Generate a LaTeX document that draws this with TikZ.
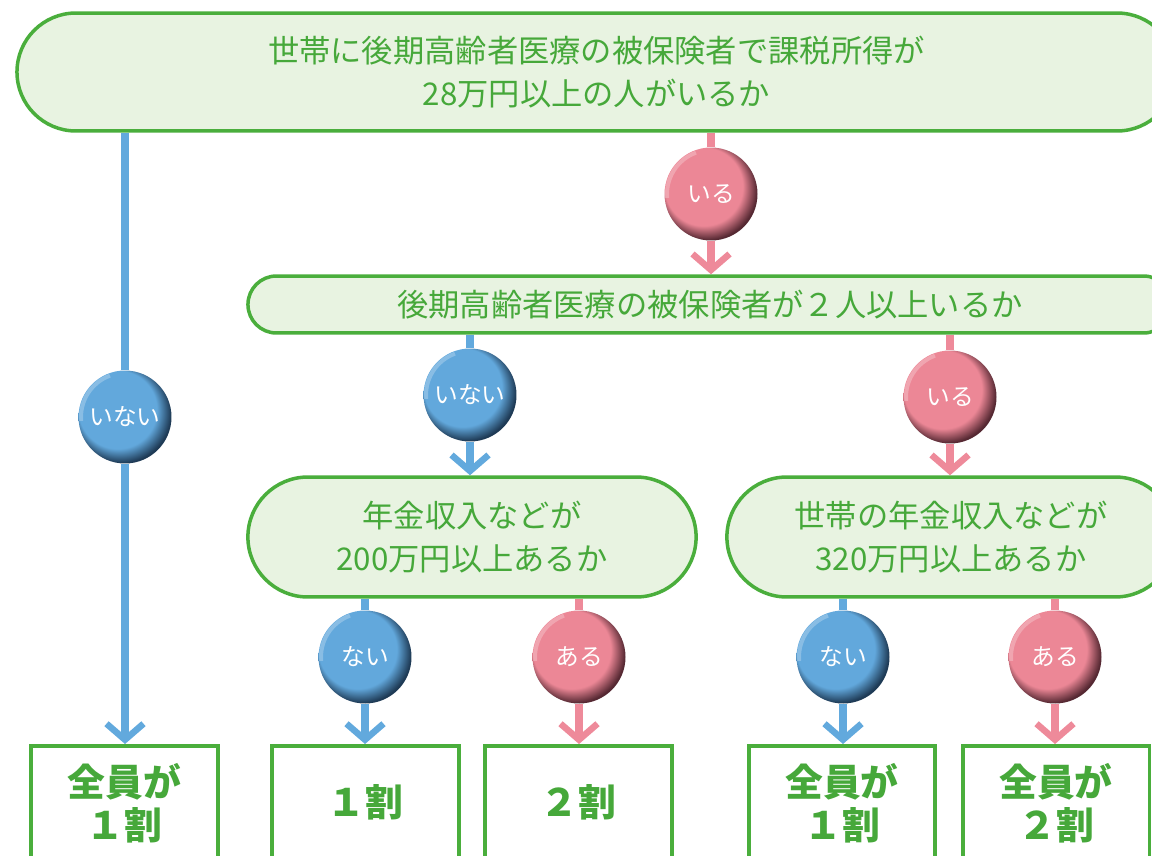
\documentclass[tikz,border=0pt]{standalone}
\usepackage{fontspec}
\setmainfont{Noto Sans CJK JP}
\usepackage{xcolor}
\usepackage{tikz}
\usetikzlibrary{arrows.meta,shapes.misc,backgrounds}

\definecolor{framegreen}{HTML}{4AAE3C}
\definecolor{textgreen}{HTML}{46A83A}
\definecolor{boxfill}{HTML}{E8F3E1}
\definecolor{lineblue}{HTML}{62A9DD}
\definecolor{linepink}{HTML}{EE8A9A}
\definecolor{ballblue}{HTML}{62A8DC}
\definecolor{ballbluedark}{HTML}{1E3A55}
\definecolor{ballpink}{HTML}{EC8796}
\definecolor{ballpinkdark}{HTML}{552832}

\pgfdeclareradialshading{blueball}{\pgfpoint{-10bp}{10bp}}{color(0bp)=(ballblue); color(21bp)=(ballblue); color(27bp)=(ballbluedark); color(35bp)=(ballbluedark)}
\pgfdeclareradialshading{pinkball}{\pgfpoint{-10bp}{10bp}}{color(0bp)=(ballpink); color(21bp)=(ballpink); color(27bp)=(ballpinkdark); color(35bp)=(ballpinkdark)}

\begin{document}
\begin{tikzpicture}[
    x=0.02cm, y=-0.02cm,
    question/.style={draw=framegreen, rounded rectangle, line width=0.07cm, fill=boxfill, text=textgreen, align=center, font=\fontsize{17.8}{24}\selectfont},
    result/.style={draw=framegreen, rectangle, line width=0.08cm, fill=white, minimum width=3.74cm, minimum height=2.8cm, anchor=north},
    restext/.style={text=textgreen, align=center, font=\fontsize{21.5}{24.5}\selectfont\bfseries},
    ball/.style={circle, inner sep=0pt, minimum size=1.86cm, text=white, font=\fontsize{13.5}{15}\selectfont,
        path picture={\draw[white, opacity=0.25, line width=0.08cm] (path picture bounding box.center) ++(110:0.88cm) arc[start angle=110, end angle=185, radius=0.88cm];}},
    noball/.style={ball, shading=blueball},
    yesball/.style={ball, shading=pinkball},
    noline/.style={lineblue, line width=0.16cm},
    yesline/.style={linepink, line width=0.16cm},
    noarrow/.style={noline, -{Straight Barb[length=0.32cm, width=0.74cm, line width=0.13cm, sharp]}},
    yesarrow/.style={yesline, -{Straight Barb[length=0.32cm, width=0.74cm, line width=0.13cm, sharp]}}
]
\useasboundingbox (0,0) rectangle (1152,855);
\clip (0,0) rectangle (1152,855);

% Questions
\node[question, minimum width=23.42cm, minimum height=2.36cm] (q1) at (596.5,72) {世帯に後期高齢者医療の被保険者で課税所得が\\28万円以上の人がいるか};
\node[question, minimum width=18.72cm, minimum height=1.14cm] (q2) at (710,304.5) {後期高齢者医療の被保険者が２人以上いるか};
\node[question, minimum width=9.2cm, minimum height=2.4cm] (q3) at (472,537) {年金収入などが\\200万円以上あるか};
\node[question, minimum width=9.2cm, minimum height=2.4cm] (q4) at (951,537) {世帯の年金収入などが\\320万円以上あるか};

% Answers
\node[noball] (b0) at (125,417) {いない};
\node[yesball] (b1) at (711,194) {いる};
\node[noball] (b2) at (470,395) {いない};
\node[yesball] (b3) at (950,397) {いる};
\node[noball] (b4) at (365,657) {ない};
\node[yesball] (b5) at (579,657) {ある};
\node[noball] (b6) at (843,657) {ない};
\node[yesball] (b7) at (1055,657) {ある};

% Results
\node[result] (r1) at (124.5,744) {};
\node[result] (r2) at (365.5,744) {};
\node[result] (r3) at (578.5,744) {};
\node[result] (r4) at (842,744) {};
\node[result] (r5) at (1056,744) {};
\node[restext] (t1) at (124.5,803) {全員が\\１割};
\node[restext] (t2) at (365.5,802) {１割};
\node[restext] (t3) at (578.5,802) {２割};
\node[restext] (t4) at (842,803) {全員が\\１割};
\node[restext] (t5) at (1056,803) {全員が\\２割};

% Arrows
\begin{scope}[on background layer]
\draw[noline] (q1.south -| b0) -- (b0);
\draw[noarrow] (b0) -- (b0 |- r1.north);
\draw[yesline] (q1.south -| b1) -- (b1);
\draw[yesarrow] (b1) -- (b1 |- q2.north);
\draw[noline] (q2.south -| b2) -- (b2);
\draw[noarrow] (b2) -- (b2 |- q3.north);
\draw[yesline] (q2.south -| b3) -- (b3);
\draw[yesarrow] (b3) -- (b3 |- q4.north);
\draw[noline] (q3.south -| b4) -- (b4);
\draw[noarrow] (b4) -- (b4 |- r2.north);
\draw[yesline] (q3.south -| b5) -- (b5);
\draw[yesarrow] (b5) -- (b5 |- r3.north);
\draw[noline] (q4.south -| b6) -- (b6);
\draw[noarrow] (b6) -- (b6 |- r4.north);
\draw[yesline] (q4.south -| b7) -- (b7);
\draw[yesarrow] (b7) -- (b7 |- r5.north);
\end{scope}

\end{tikzpicture}
\end{document}
